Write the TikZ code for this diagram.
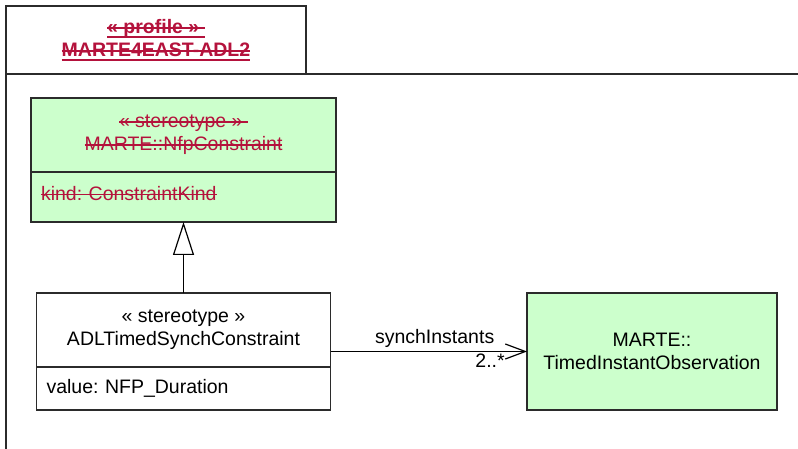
\documentclass[tikz,border=0pt]{standalone}
\usepackage{fontspec}
\setmainfont{Liberation Sans}
\usetikzlibrary{positioning, arrows.meta}
\definecolor{umlgreen}{HTML}{CCFFCC}
\definecolor{umlred}{HTML}{B4123C}
\definecolor{umlline}{HTML}{2B2B2B}
\frenchspacing
% struck-out text, and struck-out + underlined text
\newcommand\strk[1]{\setbox0\hbox{#1}\rlap{\rule[0.26em]{\wd0}{1.3pt}}\box0}
\newcommand\ustrk[1]{\setbox0\hbox{#1}\rlap{\rule[0.22em]{\wd0}{1.6pt}}\rlap{\rule[-4.6pt]{\wd0}{1.8pt}}\box0}

\begin{document}
\begin{tikzpicture}[x=1pt, y=-1pt,
  txt/.style={font={\fontsize{19.5}{23}\selectfont}},
  head/.style={draw=umlline, line width=1.2pt, outer sep=0pt, txt, align=center, inner sep=0pt},
  attr/.style={draw=umlline, line width=1.2pt, outer sep=0pt, txt, align=left, inner xsep=10pt, inner ysep=0pt},
  removed/.style={fill=umlgreen, text=umlred},
  gen/.style={-{Triangle[open, length=33pt, width=21pt]}, line width=1.2pt},
  assoc/.style={-{Straight Barb[length=20pt, width=15pt]}, line width=1.2pt}]
  \useasboundingbox (0,0) rectangle (798,449);
  % package frame
  \node[draw=umlline, line width=1.5pt, outer sep=0pt, minimum width=300pt, minimum height=68pt,
        align=center, text=umlred, font={\fontsize{19.5}{23}\selectfont\bfseries}] (tab) at (156,40)
        {\ustrk{« profile » }\\\ustrk{MARTE4EAST-ADL2}};
  \coordinate (bodyright) at (798,74);
  \coordinate (bodyleft) at (6,449);
  \draw[umlline, line width=1.5pt] (bodyright) -| (bodyleft);
  % classes
  \node[head, removed, minimum width=305pt, minimum height=74pt] (nfp) at (183.5,135)
        {\strk{« stereotype » }\\\strk{MARTE::NfpConstraint}};
  \node[attr, removed, text width=285pt, text depth=8pt, minimum height=50pt, below=0pt of nfp] (nfpattr)
        {\strk{kind: ConstraintKind}};
  \node[head, minimum width=294pt, minimum height=74pt, below=71pt of nfpattr] (adl)
        {« stereotype »\\ADLTimedSynchConstraint};
  \node[attr, text width=274pt, minimum height=43pt, below=0pt of adl] (adlattr)
        {value: NFP\_Duration};
  \node[head, fill=umlgreen, minimum width=250pt, minimum height=117pt] (tio) at (652,351.5)
        {MARTE::\\TimedInstantObservation};
  \draw[gen] (adl.north) -- (adl.north |- nfpattr.south);
  \draw[assoc] (adl.east |- tio.west) -- node[txt, above, pos=0.53] (role) {synchInstants}
        node[txt, below left, pos=0.9, inner sep=2pt] (mult) {2..*} (tio.west);
\end{tikzpicture}
\end{document}
